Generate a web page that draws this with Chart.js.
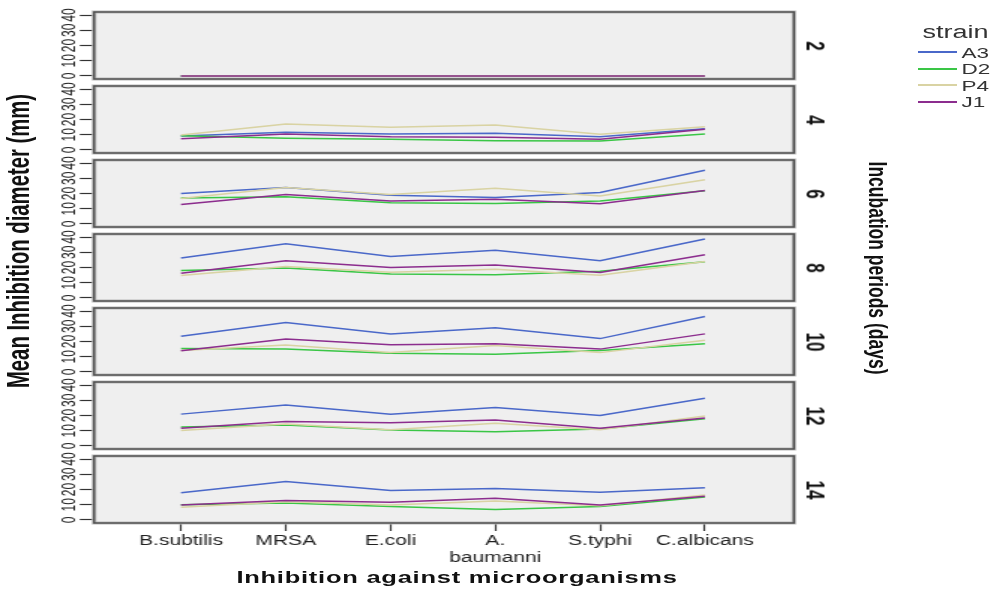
<!DOCTYPE html>
<html>
<head>
<meta charset="utf-8">
<script src="https://cdn.jsdelivr.net/npm/chart.js@4.4.1/dist/chart.umd.min.js"></script>
<style>
  html, body { margin: 0; padding: 0; background: #fff; overflow: hidden; }
  #wrap {
    position: relative; width: 662px; height: 595px;
    transform: scaleX(1.5); transform-origin: 0 0;
    font-family: "Liberation Sans", Arial, sans-serif; color: #111;
  }
  .rot { position: absolute; white-space: nowrap; transform: translate(-50%, -50%) rotate(90deg); }
  .facet { font-weight: bold; font-size: 17px; }
  #ytitle { position: absolute; left: 13.3px; top: 241px; white-space: nowrap;
    transform: translate(-50%, -50%) rotate(-90deg); font-weight: bold; font-size: 20.3px; }
  #striptitle { left: 584.7px; top: 268px; font-weight: bold; font-size: 17.5px; }
  #xtitle { position: absolute; left: 304.7px; top: 578px; transform: translate(-50%, -50%);
    white-space: nowrap; font-weight: bold; font-size: 17px; letter-spacing: 0.5px; }
  #legend { position: absolute; left: 612px; top: 20px; color: #333; }
  #legend .ttl { font-size: 18px; margin-left: 3px; line-height: 24px; }
  #legend .item { display: flex; align-items: center; height: 16.5px; font-size: 15px; }
  #legend .sw { width: 26px; height: 2px; margin-right: 3px; }
</style>
</head>
<body>
<div id="wrap">
  <div id="ytitle">Mean Inhibition diameter (mm)</div>
  <div id="striptitle" class="rot">Incubation periods (days)</div>
  <div id="xtitle">Inhibition against microorganisms</div>
  <div id="legend"><div class="ttl">strain</div></div>
</div>
<script>
const organisms = ['B.subtilis', 'MRSA', 'E.coli', ['A.', 'baumanni'], 'S.typhi', 'C.albicans'];
const days = [2, 4, 6, 8, 10, 12, 14];
const strains = ['A3', 'D2', 'P4', 'J1'];
const strainColors = ['#4a68c9', '#3ac646', '#d9d3a3', '#8c2d8e'];
const yTicks = [0, 10, 20, 30, 40];

// mean inhibition diameter (mm); one row per incubation period, one column per organism
const A3 = [
  [0, 0, 0, 0, 0, 0],
  [9.2, 11.6, 10.5, 10.9, 8.7, 14.0],
  [20.0, 24.0, 18.9, 17.3, 20.7, 35.3],
  [26.2, 35.6, 27.3, 31.3, 24.4, 38.7],
  [23.5, 32.4, 25.0, 29.0, 21.9, 36.4],
  [20.9, 26.9, 20.9, 25.3, 20.0, 31.3],
  [17.8, 25.3, 19.3, 20.7, 18.2, 21.1]
];
const D2 = [
  [0, 0, 0, 0, 0, 0],
  [9.4, 7.7, 7.0, 6.1, 5.9, 10.5],
  [17.0, 17.8, 14.0, 13.5, 15.0, 21.8],
  [18.0, 19.6, 15.8, 15.3, 17.6, 23.8],
  [15.4, 15.0, 12.3, 11.6, 14.1, 18.5],
  [12.4, 13.8, 10.4, 9.3, 11.1, 17.8],
  [10.0, 11.1, 8.9, 6.9, 8.9, 15.1]
];
const P4 = [
  [0, 0, 0, 0, 0, 0],
  [9.8, 17.0, 14.9, 16.4, 10.3, 15.3],
  [16.7, 24.0, 19.3, 23.5, 18.4, 29.0],
  [14.7, 20.7, 16.9, 18.9, 14.9, 24.0],
  [14.1, 17.7, 12.7, 17.4, 12.7, 20.8],
  [10.2, 14.4, 10.7, 14.9, 10.7, 19.6],
  [8.4, 12.0, 9.8, 12.4, 9.3, 16.4]
];
const J1 = [
  [0, 0, 0, 0, 0, 0],
  [7.4, 10.5, 8.7, 8.3, 7.0, 13.6],
  [12.7, 19.3, 15.1, 16.2, 13.3, 22.0],
  [16.2, 24.4, 20.0, 21.6, 16.7, 28.4],
  [13.9, 21.7, 17.9, 18.5, 15.0, 25.0],
  [11.6, 16.0, 15.3, 17.1, 11.6, 18.4],
  [9.8, 12.7, 11.6, 14.2, 9.8, 15.6]
];
const series = [A3, D2, P4, J1];

const wrap = document.getElementById('wrap');

// legend
const legend = document.getElementById('legend');
strains.forEach((s, i) => {
  const row = document.createElement('div');
  row.className = 'item';
  row.innerHTML = `<span class="sw" style="background:${strainColors[i]}"></span>${s}`;
  legend.appendChild(row);
});

// grey panel with dark frame
const panelFrame = {
  id: 'panelFrame',
  beforeDraw(chart) {
    const { ctx, chartArea: a } = chart;
    ctx.save();
    ctx.fillStyle = '#efefef';
    ctx.fillRect(a.left, a.top, a.width, a.height);
    ctx.restore();
  },
  afterDraw(chart) {
    const { ctx, chartArea: a } = chart;
    ctx.save();
    ctx.strokeStyle = '#b9b9b9';
    ctx.lineWidth = 3;
    ctx.strokeRect(a.left, a.top, a.width, a.height);
    ctx.strokeStyle = '#4e4e4e';
    ctx.lineWidth = 1.4;
    ctx.strokeRect(a.left, a.top, a.width, a.height);
    ctx.restore();
  }
};

days.forEach((d, k) => {
  const top = 12 + 74 * k;
  const last = k === days.length - 1;

  const cv = document.createElement('canvas');
  cv.width = 540;
  cv.height = last ? 121 : 75;
  cv.style.cssText = `position:absolute;left:0;top:${top - 4}px`;
  wrap.appendChild(cv);

  const lab = document.createElement('div');
  lab.className = 'rot facet';
  lab.style.left = '543.3px';
  lab.style.top = (top + 33.5) + 'px';
  lab.textContent = d;
  wrap.appendChild(lab);

  new Chart(cv, {
    type: 'line',
    data: {
      datasets: strains.map((s, i) => ({
        label: s,
        data: series[i][k].map((v, j) => ({ x: j, y: v })),
        borderColor: strainColors[i],
        borderWidth: 1.5,
        pointRadius: 0,
        tension: 0,
        order: strains.length - i
      }))
    },
    options: {
      responsive: false,
      animation: false,
      layout: { padding: { left: 34.7, right: 10.7, top: 4, bottom: last ? 0 : 4 } },
      plugins: { legend: { display: false }, tooltip: { enabled: false } },
      scales: {
        x: {
          type: 'linear',
          display: last,
          min: -0.83,
          max: 5.85,
          afterBuildTicks: sc => { sc.ticks = organisms.map((o, j) => ({ value: j })); },
          afterFit: sc => { sc.height = last ? 50 : 0; sc.paddingLeft = 0; sc.paddingRight = 0; },
          border: { display: false },
          grid: { drawOnChartArea: false, tickLength: 8, tickColor: '#333', tickWidth: 1.2 },
          ticks: {
            maxRotation: 0,
            autoSkip: false,
            padding: 2,
            color: '#222',
            font: { family: 'Liberation Sans', size: 14 },
            callback: v => organisms[v]
          }
        },
        y: {
          min: -2,
          max: 42,
          afterBuildTicks: sc => { sc.ticks = yTicks.map(v => ({ value: v })); },
          afterFit: sc => { sc.width = 28; sc.paddingTop = 0; sc.paddingBottom = 0; },
          border: { display: false },
          grid: { drawOnChartArea: false, tickLength: 9.5, tickColor: '#333', tickWidth: 1.2 },
          ticks: {
            minRotation: 90,
            maxRotation: 90,
            autoSkip: false,
            crossAlign: 'center',
            padding: 0,
            color: '#222',
            font: { family: 'Liberation Sans', size: 12 }
          }
        }
      }
    },
    plugins: [panelFrame]
  });
});
</script>
</body>
</html>
